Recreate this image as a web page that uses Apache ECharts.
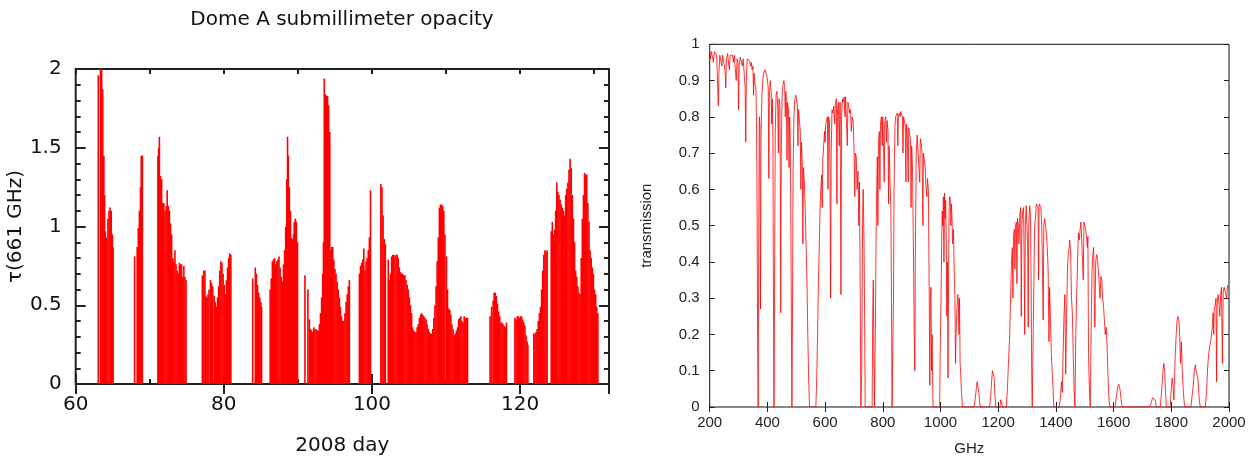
<!DOCTYPE html>
<html><head><meta charset="utf-8">
<script src="https://cdn.jsdelivr.net/npm/echarts@6/dist/echarts.min.js"></script>
<style>html,body{margin:0;padding:0;background:#fff}#c{width:1249px;height:461px}</style>
</head><body><div id="c"></div>
<script>
// ---- Left panel: Dome A submillimeter opacity ----
const days = [
63.05,63.35,63.5,63.65,63.8,63.9,64.0,64.15,64.35,64.5,64.65,64.8,64.95,65.05,
67.95,68.3,68.45,68.6,68.75,68.85,69.0,
71.1,71.2,71.3,71.45,71.6,71.75,71.9,72.05,72.2,72.35,72.5,72.65,72.8,72.95,73.1,73.25,73.4,73.55,73.7,73.85,74.0,74.15,74.3,74.45,74.6,74.75,74.9,
77.1,77.3,77.45,77.55,77.7,77.85,78.0,78.2,78.35,78.5,78.7,78.85,79.0,79.15,79.3,79.45,79.6,79.75,79.9,80.05,80.2,80.35,80.5,80.65,80.8,80.95,
83.9,84.25,84.4,84.55,84.7,84.85,85.0,85.1,
86.25,86.4,86.55,86.7,86.85,87.0,87.15,87.3,87.45,87.6,87.75,87.9,88.05,88.2,88.35,88.5,88.6,88.7,88.85,89.0,89.1,89.25,89.4,89.5,89.65,89.8,89.95,
90.95,91.35,91.55,91.7,91.85,92.0,92.15,92.3,92.45,92.6,92.75,92.9,93.05,93.2,93.35,93.45,93.56,93.7,93.85,94.0,94.15,94.3,94.42,94.55,94.7,94.85,95.0,95.15,95.3,95.45,95.6,95.75,95.9,96.05,96.2,96.35,96.5,96.65,96.8,96.95,
98.3,98.45,98.6,98.75,98.9,99.05,99.2,99.35,99.5,99.65,99.8,
101.2,101.35,101.5,101.65,101.8,102.2,102.35,102.5,102.65,102.8,102.95,103.1,103.25,103.4,103.55,103.7,103.85,104.0,104.15,104.3,104.45,104.6,104.75,104.9,105.05,105.2,105.35,105.5,105.65,105.8,105.95,106.1,106.25,106.4,106.55,106.7,106.85,107.0,107.15,107.3,107.45,107.6,107.75,107.9,108.05,108.2,108.35,108.5,108.65,108.8,108.95,109.1,109.25,109.4,109.55,109.7,109.85,110.05,110.2,110.35,110.5,110.65,110.8,110.95,111.1,111.25,111.4,111.55,111.7,111.85,112.0,112.15,112.3,112.45,112.6,112.75,112.9,
115.95,116.15,116.35,116.5,116.65,116.8,116.95,117.1,117.25,117.4,117.55,117.7,117.85,118.0,118.15,
119.3,119.45,119.6,119.75,119.9,120.05,120.2,120.35,120.5,120.65,120.8,120.95,121.05,
121.85,122.0,122.15,122.3,122.45,122.6,122.75,122.9,123.05,123.2,123.35,123.5,123.65,124.2,124.35,124.5,124.65,124.8,124.95,125.1,125.25,125.4,125.55,125.7,125.85,126.0,126.15,126.3,126.45,126.6,126.75,126.9,127.05,127.2,127.35,127.5,127.65,127.8,127.95,128.1,128.25,128.4,128.55,128.7,128.85,129.0,129.15,129.3,129.45,129.6,129.75,129.9,130.05,130.2,130.35,130.5
];
const tau = [
1.96,2.0,2.0,1.87,1.45,1.2,0.97,0.93,1.05,1.1,1.12,1.1,0.95,0.87,
0.81,0.87,0.99,1.1,1.25,1.45,1.45,
1.45,1.5,1.57,1.32,1.3,1.15,1.15,1.1,1.13,1.23,1.13,1.1,1.02,0.95,0.8,0.78,0.85,0.76,0.72,0.7,0.77,0.76,0.76,0.68,0.75,0.68,0.66,
0.69,0.72,0.72,0.56,0.55,0.57,0.6,0.66,0.64,0.62,0.56,0.52,0.49,0.55,0.62,0.72,0.78,0.77,0.7,0.63,0.57,0.66,0.74,0.8,0.83,0.82,
0.67,0.74,0.7,0.63,0.58,0.55,0.52,0.49,
0.6,0.67,0.78,0.79,0.8,0.76,0.78,0.79,0.81,0.74,0.68,0.65,0.76,0.85,1.0,1.3,1.57,1.45,1.25,1.1,0.93,0.92,0.95,1.03,1.05,1.03,0.9,
0.69,0.6,0.41,0.35,0.34,0.33,0.36,0.35,0.35,0.34,0.34,0.38,0.45,0.55,0.7,0.9,1.94,1.84,1.83,1.83,1.77,1.6,0.85,0.87,0.87,0.79,0.73,0.7,0.65,0.6,0.55,0.49,0.43,0.4,0.4,0.45,0.52,0.57,0.62,0.66,
0.7,0.75,0.77,0.79,0.86,0.72,0.78,0.8,0.85,0.93,1.23,
1.27,1.25,1.07,0.92,0.89,0.79,0.66,0.7,0.81,0.82,0.82,0.81,0.82,0.82,0.8,0.74,0.71,0.7,0.7,0.69,0.69,0.66,0.63,0.6,0.55,0.5,0.45,0.36,0.34,0.33,0.33,0.36,0.38,0.42,0.44,0.45,0.44,0.43,0.42,0.41,0.38,0.35,0.33,0.32,0.32,0.35,0.42,0.5,0.62,0.78,0.93,1.12,1.14,1.14,1.13,1.1,0.95,0.81,0.6,0.48,0.47,0.44,0.38,0.35,0.31,0.32,0.34,0.36,0.41,0.42,0.43,0.4,0.39,0.43,0.42,0.42,0.42,
0.43,0.49,0.53,0.58,0.58,0.56,0.51,0.46,0.43,0.39,0.39,0.38,0.37,0.36,0.39,
0.42,0.41,0.43,0.43,0.42,0.43,0.43,0.41,0.39,0.37,0.31,0.27,0.25,
0.32,0.32,0.33,0.35,0.4,0.45,0.49,0.6,0.72,0.82,0.85,0.84,0.85,0.97,1.03,0.95,0.98,1.1,1.28,1.22,1.2,1.17,1.14,1.12,1.1,1.07,1.2,1.24,1.28,1.36,1.43,1.37,1.2,1.05,0.9,0.72,0.68,0.62,0.58,0.57,0.8,1.05,1.2,1.34,1.33,1.33,1.15,1.03,0.85,0.8,0.74,0.7,0.6,0.57,0.49,0.45
];
const leftXLabels = [60, 80, 100, 120];
const leftYLabels = [0, 0.5, 1, 1.5, 2];

// ---- Right panel: atmospheric transmission spectrum ----
const ghz = [
200,203,206,210,213,216,220,224,227,230,232,235,239,242,245,249,253,256,258,262,266,268,271,275,279,282,285,289,292,295,298,300,302,306,310,313,316,320,323,325,327,330,334,338,341,344,347,350,352,354,357,360,362,364,366,368,370,372,374,376,378,381,384,387,391,395,398,401,403,405,407,410,413,415,417,419,421,423,425,427,430,433,436,438,440,443,445,446,448,451,454,457,460,462,464,466,468,470,473,475,477,479,481,483,485,487,489,492,495,498,501,504,506,508,511,514,516,518,521,523,525,528,531,534,537,540,543,546,
568,571,574,577,580,582,585,588,590,592,595,598,600,602,605,608,610,612,615,617,619,621,624,627,630,633,636,639,641,643,646,649,652,654,655,657,660,663,666,669,671,674,677,679,682,685,688,691,694,697,700,703,705,708,711,714,717,719,722,724,727,730,732,735,737,739,
763,765,767,769,771,774,777,779,781,783,785,788,790,792,795,798,800,803,805,807,810,813,815,818,820,822,825,828,830,832,835,837,839,842,844,847,850,852,854,857,860,862,865,868,870,872,875,878,880,882,885,888,890,893,896,898,900,903,906,909,911,913,916,919,922,925,928,930,933,936,939,941,944,947,950,953,955,958,961,963,965,967,969,971,974,
997,999,1002,1004,1006,1008,1010,1012,1014,1016,1018,1020,1022,1024,1026,1028,1030,1032,1034,1036,1038,1040,1042,1045,1047,1050,1052,1054,1057,1060,1062,1064,1066,1068,1070,1073,1076,
1116,1120,1124,1127,1130,1133,1136,1139,1170,1174,1177,1180,1183,1186,1189,1192,1206,1209,1212,1215,
1228,1232,1236,1240,1243,1246,1249,1251,1253,1256,1258,1260,1263,1265,1267,1270,1272,1275,1278,1280,1282,1285,1288,1290,1292,1294,1297,1300,1302,1304,1306,1309,1312,1314,1316,1318,1321,1323,1326,1329,1332,1335,1338,1340,1342,1345,1348,1351,1354,1356,1358,1361,1364,1367,1370,1373,1376,1378,1381,1384,1387,1390,1393,
1412,1416,1419,1422,1425,1428,1431,1434,1437,1440,1443,1446,1448,1451,1454,1457,1460,1463,1466,1469,1472,1475,1478,1481,1484,1487,1490,1493,1495,1497,1500,1503,1506,1509,1511,1513,1516,1519,1522,1525,1528,1531,1533,1535,1538,1541,1544,1547,1550,1553,1556,1559,1562,1565,1568,1571,1574,1577,1580,1583,1587,
1605,1610,1614,1618,1622,1626,1630,
1725,1730,1735,1740,1744,1748,1762,1767,1771,1774,1777,1780,1783,1796,1800,1803,1806,1809,1811,1814,1817,1820,1823,1826,1829,1832,1835,1838,1842,1846,
1868,1872,1876,1880,1883,1886,1889,1892,1896,1900,
1918,1922,1926,1930,1934,1938,1942,1945,1947,1949,1952,1955,1957,1959,1962,1965,1968,1971,1974,1977,1980,1983,1986,1989,1992,1995,1998,2000
];
const transmission = [
0.98,0.96,0.98,0.98,0.95,0.98,0.975,0.97,0.90,0.83,0.92,0.97,0.975,0.94,0.97,0.975,0.93,0.88,0.96,0.975,0.97,0.93,0.97,0.975,0.97,0.95,0.97,0.97,0.9,0.96,0.95,0.82,0.94,0.965,0.96,0.94,0.96,0.96,0.88,0.73,0.9,0.96,0.96,0.955,0.94,0.95,0.93,0.94,0.86,0.92,0.89,0.88,0.8,0.6,0.2,0,0.45,0.8,0.78,0.27,0.75,0.86,0.9,0.92,0.93,0.93,0.915,0.92,0.88,0.63,0.86,0.9,0.87,0.78,0.85,0.75,0.3,0,0.35,0.75,0.86,0.87,0.82,0.7,0.85,0.84,0.6,0.26,0.7,0.86,0.89,0.9,0.88,0.8,0.87,0.84,0.68,0.84,0.82,0.66,0.8,0.75,0.55,0.25,0,0.25,0.65,0.8,0.85,0.86,0.85,0.83,0.72,0.82,0.79,0.76,0.6,0.73,0.67,0.45,0.66,0.62,0.55,0.45,0.35,0.2,0.08,0,
0,0.08,0.2,0.35,0.45,0.53,0.6,0.64,0.55,0.68,0.72,0.76,0.73,0.78,0.78,0.8,0.6,0.8,0.79,0.65,0.3,0.7,0.82,0.81,0.83,0.78,0.84,0.85,0.56,0.82,0.84,0.72,0.84,0.5,0.31,0.8,0.85,0.84,0.855,0.8,0.855,0.85,0.72,0.84,0.83,0.81,0.82,0.76,0.8,0.79,0.72,0.58,0.7,0.69,0.6,0.65,0.5,0.62,0.3,0,0.1,0.52,0.6,0.45,0.25,0,
0,0.25,0.35,0.15,0,0.2,0.5,0.6,0.69,0.5,0.73,0.76,0.6,0.78,0.8,0.72,0.8,0.805,0.62,0.79,0.8,0.73,0.79,0.76,0.56,0.72,0.62,0.55,0.3,0,0,0.3,0.6,0.77,0.8,0.8,0.81,0.72,0.8,0.81,0.8,0.815,0.815,0.8,0.7,0.8,0.79,0.77,0.62,0.78,0.75,0.62,0.77,0.75,0.74,0.55,0.72,0.66,0.45,0.2,0.1,0.45,0.7,0.75,0.755,0.75,0.62,0.74,0.73,0.7,0.5,0.7,0.68,0.66,0.6,0.58,0.63,0.6,0.3,0.06,0.3,0.33,0.1,0.2,0,
0,0.15,0.31,0.45,0.54,0.5,0.58,0.4,0.59,0.52,0.57,0.45,0.25,0.4,0.08,0.35,0.55,0.58,0.57,0.5,0.56,0.52,0.45,0.49,0.4,0.3,0.12,0.2,0.27,0.31,0.29,0.2,0.3,0.12,0.09,0.04,0,
0,0.02,0.05,0.07,0.065,0.04,0.01,0,0,0.03,0.07,0.1,0.105,0.08,0.03,0,0,0.02,0.015,0,
0,0.05,0.13,0.2,0.31,0.4,0.44,0.3,0.47,0.49,0.38,0.5,0.51,0.34,0.52,0.5,0.45,0.53,0.55,0.25,0.5,0.54,0.55,0.4,0.2,0.5,0.555,0.56,0.45,0.22,0.5,0.555,0.53,0.35,0.1,0,0,0.3,0.49,0.52,0.56,0.565,0.55,0.35,0.56,0.56,0.55,0.5,0.35,0.24,0.5,0.52,0.5,0.48,0.44,0.38,0.18,0.33,0.25,0.15,0.1,0.05,0,
0,0.03,0.07,0.04,0.15,0.25,0.31,0.09,0.25,0.38,0.42,0.44,0.46,0.43,0.3,0.26,0.15,0.05,0,0.2,0.31,0.4,0.48,0.46,0.49,0.51,0.515,0.51,0.35,0.51,0.5,0.49,0.47,0.44,0.47,0.15,0.05,0,0.2,0.37,0.42,0.44,0.3,0.22,0.4,0.42,0.41,0.38,0.38,0.3,0.36,0.35,0.3,0.28,0.24,0.2,0.22,0.18,0.1,0.03,0,
0,0.03,0.055,0.063,0.05,0.02,0,
0,0.01,0.025,0.03,0.02,0,0,0.05,0.1,0.12,0.1,0.04,0,0,0.05,0.08,0.06,0.02,0.08,0.15,0.2,0.24,0.25,0.24,0.2,0.12,0.18,0.1,0.04,0,
0,0.03,0.06,0.1,0.116,0.1,0.105,0.08,0.03,0,
0,0.04,0.11,0.15,0.17,0.19,0.22,0.26,0.2,0.27,0.28,0.3,0.07,0.28,0.31,0.29,0.25,0.31,0.33,0.12,0.32,0.33,0.335,0.33,0.3,0.335,0.33,0.33
];
const rightXLabels = [200,400,600,800,1000,1200,1400,1600,1800,2000];

const FL = '"DejaVu Sans", sans-serif';
const FR = '"Liberation Sans", Arial, sans-serif';
const LC = '#222';

function mkX(grid, pos, min, max, interval, len, width, labelOpt, extra) {
  return Object.assign({
    gridIndex: grid, type: 'value', position: pos, min: min, max: max, interval: interval,
    axisLine: {show: false},
    axisTick: {show: true, inside: true, length: len, lineStyle: {color: LC, width: width}},
    axisLabel: labelOpt || {show: false},
    splitLine: {show: false}
  }, extra || {});
}

const chart = echarts.init(document.getElementById('c'), null, {renderer: 'canvas'});
chart.setOption({
  animation: false,
  backgroundColor: '#fff',
  graphic: [{
    type: 'text', x: 342, y: 20,
    style: {text: 'Dome A submillimeter opacity', font: '20px ' + FL, fill: '#111', align: 'center', verticalAlign: 'middle'}
  }],
  grid: [
    {left: 75.7, top: 69, width: 533.3, height: 319, show: true, borderColor: LC, borderWidth: 2, backgroundColor: 'rgba(0,0,0,0)'},
    {left: 709.7, top: 44.3, width: 519.3, height: 372.7, show: true, borderColor: '#111', borderWidth: 1, backgroundColor: 'rgba(0,0,0,0)'}
  ],
  xAxis: [
    mkX(0, 'bottom', 60, 132, 20, 10, 2, {
      show: true, fontSize: 20, fontFamily: FL, color: '#111', margin: 11,
      formatter: v => leftXLabels.includes(v) ? String(v) : ''
    }, {name: '2008 day', nameLocation: 'middle', nameGap: 52, nameTextStyle: {fontSize: 20, fontFamily: FL, color: '#111'}}),
    mkX(0, 'top', 60, 132, 20, 10, 2),
    mkX(0, 'bottom', 60, 132, 10, 5, 2),
    mkX(0, 'top', 60, 132, 10, 5, 2),
    mkX(1, 'bottom', 200, 2000, 200, 5, 1, {
      show: true, fontSize: 15, fontFamily: FR, color: '#222', margin: 8,
      formatter: v => rightXLabels.includes(v) ? String(v) : ''
    }, {name: 'GHz', nameLocation: 'middle', nameGap: 34, nameTextStyle: {fontSize: 15, fontFamily: FR, color: '#222'}}),
    mkX(1, 'top', 200, 2000, 200, 5, 1)
  ],
  yAxis: [
    Object.assign(mkX(0, 'left', 0, 2, 0.5, 10, 2, {
      show: true, fontSize: 20, fontFamily: FL, color: '#111', margin: 14,
      formatter: v => leftYLabels.includes(v) ? String(v) : ''
    }, {name: 'τ(661 GHz)', nameLocation: 'middle', nameGap: 32, nameTextStyle: {fontSize: 20, fontFamily: FL, color: '#111'}}),
      {minorTick: {show: true, splitNumber: 5, length: 5, lineStyle: {color: LC, width: 2}}}),
    Object.assign(mkX(0, 'right', 0, 2, 0.5, 10, 2),
      {minorTick: {show: true, splitNumber: 5, length: 5, lineStyle: {color: LC, width: 2}}}),
    mkX(1, 'left', 0, 1, 0.1, 5, 1, {
      show: true, fontSize: 15, fontFamily: FR, color: '#222', margin: 10,
      formatter: v => String(Math.round(v * 10) / 10)
    }, {name: 'transmission', nameLocation: 'middle', nameGap: 55, nameTextStyle: {fontSize: 15, fontFamily: FR, color: '#222'}}),
    mkX(1, 'right', 0, 1, 0.1, 5, 1)
  ],
  series: [
    {
      type: 'bar', xAxisIndex: 0, yAxisIndex: 0,
      data: days.map((d, i) => [d, tau[i]]),
      barWidth: 1.6, barGap: '-100%',
      itemStyle: {color: '#ff0000'},
      silent: true
    },
    {
      type: 'line', xAxisIndex: 4, yAxisIndex: 2,
      data: ghz.map((f, i) => [f, transmission[i]]),
      showSymbol: false, symbol: 'none',
      lineStyle: {color: '#ff0000', width: 0.8},
      silent: true
    }
  ]
});
</script>
</body></html>
